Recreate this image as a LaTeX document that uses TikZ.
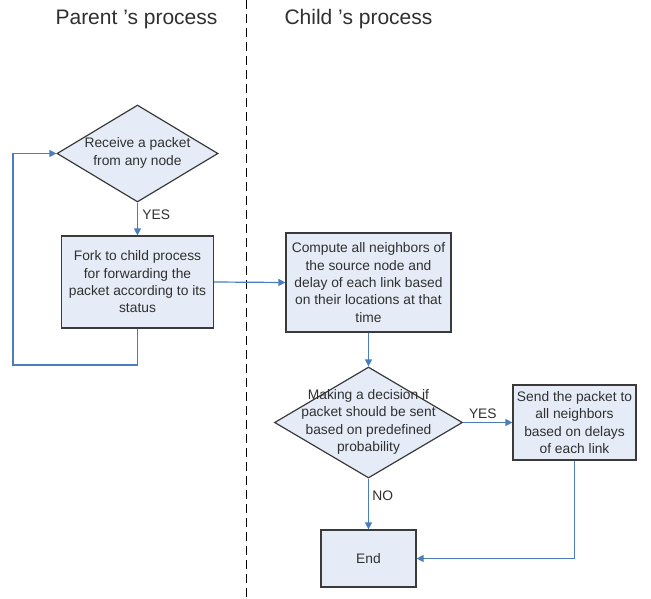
\documentclass[tikz,border=0pt]{standalone}
\usepackage{fontspec}
\setmainfont{Liberation Sans}
\usetikzlibrary{shapes.geometric,arrows.meta}
\definecolor{boxfill}{HTML}{E6ECF7}
\definecolor{boxline}{HTML}{3A3A3A}
\definecolor{arrowc}{HTML}{4A7EBB}
\definecolor{txtc}{HTML}{303030}
\tikzset{
  txt/.style={font=\fontsize{13.8}{17.3}\selectfont, align=center, text=txtc},
  procbox/.style={draw=boxline, fill=boxfill, line width=1.2pt, txt, inner sep=0pt},
  decision/.style={diamond, draw=boxline, fill=boxfill, line width=1.2pt, inner sep=0pt},
  flow/.style={draw=arrowc, line width=1.2pt, -{Triangle[length=7pt,width=7pt]}},
  lab/.style={font=\fontsize{13.8}{16}\selectfont, text=txtc},
  title/.style={font=\fontsize{21}{24}\selectfont, text=txtc}
}
\begin{document}
\begin{tikzpicture}[x=1pt,y=-1pt]
\useasboundingbox (0,0) rectangle (651,599);
\fill[white] (0,0) rectangle (651,599);
\draw[line width=0.9pt, dash pattern=on 9pt off 5pt] (246,0) -- (246,599);
\node[title] (tp) at (136.5,19) {Parent 's process};
\node[title] (tc) at (358.5,19) {Child 's process};

\node[decision, minimum width=161pt, minimum height=97pt] (d1) at (137.5,153.5) {};
\node[txt] (d1t) at (137.5,153) {Receive a packet\\from any node};
\node[procbox, minimum width=152pt, minimum height=92pt] (b1) at (137.5,282) {Fork to child process\\for forwarding the\\packet according to its\\status};
\node[procbox, minimum width=165pt, minimum height=99pt] (b2) at (368.5,282.5) {Compute all neighbors of\\the source node and\\delay of each link based\\on their locations at that\\time};
\node[decision, minimum width=188pt, minimum height=111pt] (d2) at (368.5,422.5) {};
\node[txt] (d2t) at (368.5,422) {Making a decision if\\packet should be sent\\based on predefined\\probability};
\node[procbox, minimum width=123pt, minimum height=75pt] (b3) at (574.5,422.5) {Send the packet to\\all neighbors\\based on delays\\of each link};
\node[procbox, minimum width=95pt, minimum height=57pt] (e) at (368.5,558.5) {End};

\coordinate (l1) at (137.5,365);
\coordinate (l2) at (13,365);
\coordinate (l3) at (13,153.5);

\draw[flow] (d1.south) -- node[lab, right, pos=0.38, xshift=1pt] {YES} (b1.north);
\draw[flow] (b1.south) -- (l1) -- (l2) -- (l3) -- (d1.west);
\draw[flow] (b1.east) -- (b2.west);
\draw[flow] (b2.south) -- (d2.north);
\draw[flow] (d2.east) -- node[lab, above, pos=0.4] {YES} (b3.west);
\draw[flow] (d2.south) -- node[lab, right, pos=0.33] {NO} (e.north);
\draw[flow] (b3.south) |- (e.east);
\end{tikzpicture}
\end{document}
